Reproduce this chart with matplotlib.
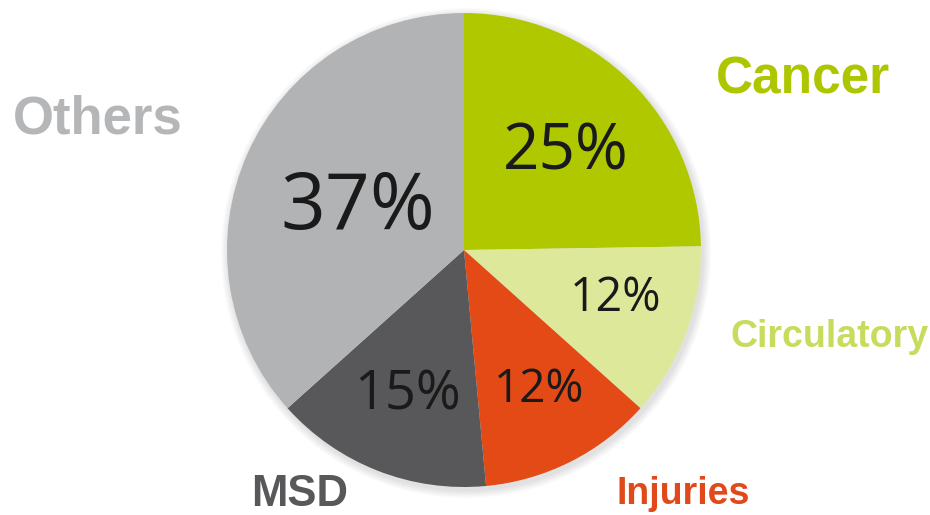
import matplotlib
matplotlib.use("Agg")
import matplotlib.pyplot as plt

categories = ["Cancer", "Circulatory", "Injuries", "MSD", "Others"]
values = [25, 12, 12, 15, 37]
wedge_colors = ["#afc800", "#dde89b", "#e34a16", "#58585a", "#b2b3b5"]
label_colors = ["#aec600", "#c6dc5c", "#e04a1a", "#58585a", "#b5b6b8"]

W, H = 930, 515
fig = plt.figure(figsize=(W / 100, H / 100), dpi=100)
ax = fig.add_axes([0, 0, 1, 1])

cx, cy, r = 464, H - 250, 237

# soft shadow
for i in range(10):
    shadow = plt.Circle((cx + 2, cy - 3), r + 1 + i * 0.8, color="#000000",
                        alpha=0.012, lw=0, zorder=0)
    ax.add_patch(shadow)

ax.pie(values, colors=wedge_colors, startangle=90, counterclock=False,
       center=(cx, cy), radius=r, frame=True,
       wedgeprops=dict(linewidth=0))
ax.set_xlim(0, W)
ax.set_ylim(0, H)
ax.set_aspect("equal")
ax.axis("off")

# percentage labels (positions in pixel layout)
pct_pos = [(566, 153), (616, 298), (539, 390), (408, 395), (358, 208)]
pct_size = [46, 33.5, 33, 39, 56.5]
for v, (x, y), s in zip(values, pct_pos, pct_size):
    ax.text(x, H - y, f"{v}%", fontsize=s, family="Open Sans", color="#1a1a1a",
            ha="center", va="center")

# category labels
cat_pos = [(803, 80), (830, 337), (683, 494), (300, 495), (98, 120)]
cat_size = [37, 27, 27, 31.5, 38]
for c, (x, y), s, col in zip(categories, cat_pos, cat_size, label_colors):
    ax.text(x, H - y, c, fontsize=s, family="Liberation Sans", weight="bold",
            color=col, ha="center", va="center")

fig.savefig("out.png", dpi=100)
